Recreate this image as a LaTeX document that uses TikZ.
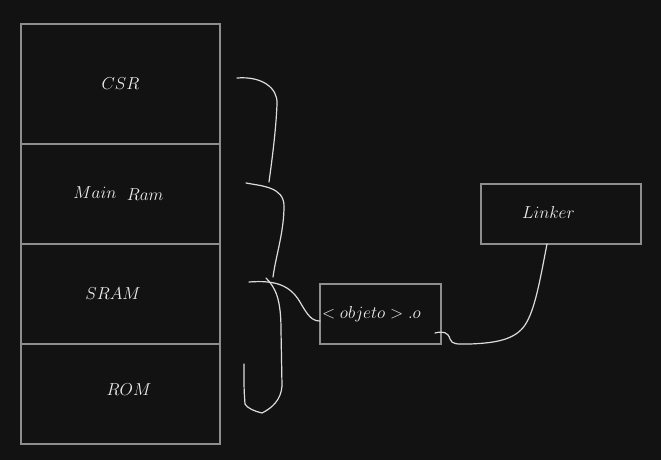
\documentclass[tikz,border=0pt]{standalone}
\usepackage{tikz}
\usetikzlibrary{positioning}
\definecolor{bg}{HTML}{121212}
\definecolor{boxline}{HTML}{8E8E8E}
\definecolor{ink}{HTML}{DCDCDC}
\definecolor{lettering}{HTML}{EEEEEE}
\tikzstyle{region} = [rectangle, minimum width=199pt, draw=boxline, line width=1.2pt, text=lettering, outer sep=0pt]
\tikzstyle{filebox} = [rectangle, minimum height=60pt, draw=boxline, line width=1.1pt, text=lettering, outer sep=0pt, align=left]
\tikzstyle{stroke} = [draw=ink, line width=1.2pt, line cap=round, line join=round]

\begin{document}
\begin{tikzpicture}[x=1pt, y=-1pt, font=\LARGE]
\fill[bg] (0,0) rectangle (661,460);

% memoria
\node (csr) [region, minimum height=120pt, anchor=north west] at (21,24) {$CSR$};
\node (mainram) [region, minimum height=100pt, below=0pt of csr] {\hspace*{-4pt}$Main\ \ \raisebox{-2pt}{$Ram$}$};
\node (sram) [region, minimum height=100pt, below=0pt of mainram] {\hspace*{-15pt}$SRAM$};
\node (rom) [region, minimum height=100pt, below=0pt of sram] {\hspace*{17pt}\raisebox{8pt}{$ROM$}};

% objeto y linker
\node (obj) [filebox, text width=117pt, inner xsep=2pt, anchor=north west] at (320,284) {\raisebox{4pt}{$<objeto>.o$}};
\node (linker) [filebox, text width=78pt, inner xsep=41pt, anchor=north west] at (481,184) {\raisebox{4pt}{$Linker$}};

% llaves
\draw [stroke] (237,78) .. controls (262,76) and (278,88) .. (277,104) .. controls (276,130) and (272,160) .. (269,182);
\draw [stroke] (246,183) .. controls (262,186) and (284,187) .. (284,206) .. controls (284,232) and (276,255) .. (273,277);
\draw [stroke] (266,278) .. controls (276,288) and (281,300) .. (281,330) -- (282,386) .. controls (281,400) and (272,408) .. (262,413) .. controls (254,411) and (247,408) .. (245,404) .. controls (244,390) .. (244,364);

\coordinate (b3tip) at (249,282);
\draw [stroke] (b3tip) .. controls (275,280) and (290,285) .. (300,302) .. controls (308,316) and (312,321) .. ([yshift=-7pt]obj.west);
\draw [stroke] ([xshift=-6pt,yshift=-19pt]obj.east) .. controls (443,331) and (448,332) .. (450,339) .. controls (452,345) and (458,344) .. (470,344) .. controls (495,343) and (515,340) .. (525,325) .. controls (535,310) and (540,280) .. ([xshift=-14pt]linker.south);
\end{tikzpicture}
\end{document}
